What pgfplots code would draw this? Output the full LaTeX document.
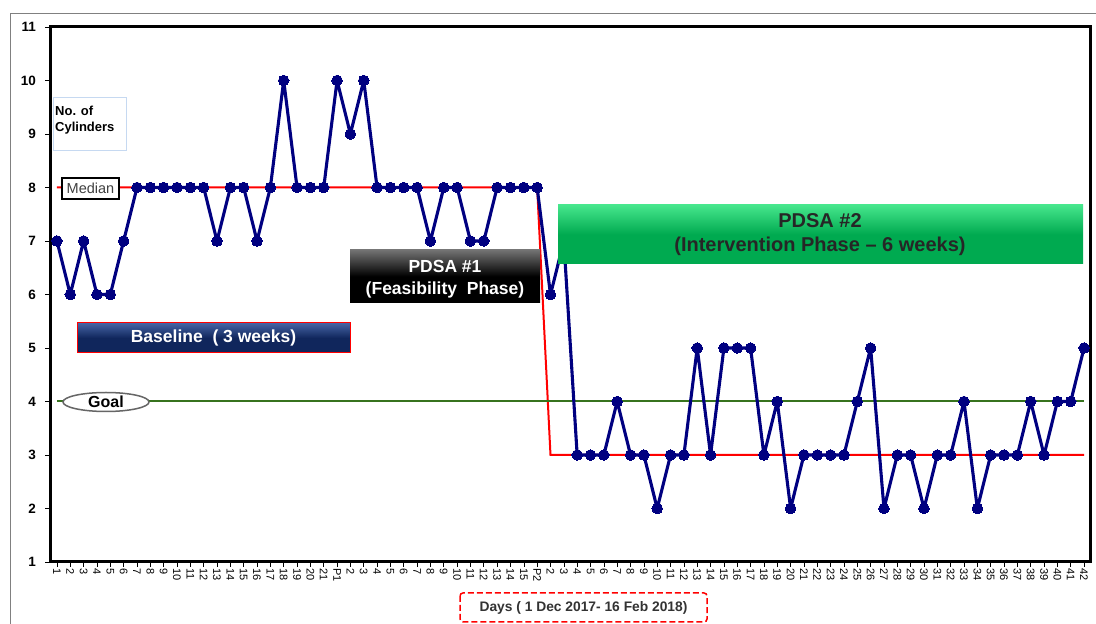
\documentclass[border=0pt]{standalone}
\usepackage{fontspec}
\setmainfont{Liberation Sans}
\usepackage{pgfplots}
\pgfplotsset{compat=1.18}
\definecolor{navyline}{RGB}{0,0,128}
\definecolor{goalgreen}{RGB}{55,115,30}
\definecolor{bltop}{RGB}{70,100,165}
\definecolor{blbot}{RGB}{16,38,92}
\definecolor{gntop}{RGB}{70,230,140}
\definecolor{gnbot}{RGB}{0,170,80}
\definecolor{cylbox}{RGB}{198,217,241}
\begin{document}
\begin{tikzpicture}[x=1pt,y=1pt]
\useasboundingbox (0,0) rectangle (1096,624);
\fill[white] (0,0) rectangle (1096,624);
\draw[gray, line width=1pt] (10,0) -- (10,610) -- (1096,610);
\begin{axis}[
  at={(50pt,62pt)}, anchor=south west,
  scale only axis, width=1040pt, height=535pt,
  xmin=-0.52, xmax=77.45, ymin=1, ymax=11,
  ytick={1,2,...,11},
  xtick={0,1,...,77},
  xtick pos=bottom, ytick pos=left,
  xticklabels={1,2,3,4,5,6,7,8,9,10,11,12,13,14,15,16,17,18,19,20,21,P1,2,3,4,5,6,7,8,9,10,11,12,13,14,15,P2,2,3,4,5,6,7,8,9,10,11,12,13,14,15,16,17,18,19,20,21,22,23,24,25,26,27,28,29,30,31,32,33,34,35,36,37,38,39,40,41,42},
  xticklabel style={rotate=-90, anchor=west, font=\fontsize{11}{11}\selectfont, inner sep=1pt, yshift=0pt},
  yticklabel style={font=\bfseries\fontsize{13.5}{13.5}\selectfont, inner xsep=2pt, xshift=-7pt},
  /pgf/number format/assume math mode=true,
  tick align=outside, major tick length=5pt,
  tick style={black, line width=0.6pt},
  axis line style={draw=none},
  clip=false,
]
\addplot[red, line width=2pt, mark=none] coordinates {(0,8) (36,8) (37,3) (77,3)};
\addplot[goalgreen, line width=2pt, mark=none] coordinates {(0,4) (77,4)};
\addplot[navyline, line width=3.1pt, line join=round, mark=*, mark size=5.3pt, mark options={fill=navyline, draw=navyline, line width=0pt}] table {
x y
0 7
1 6
2 7
3 6
4 6
5 7
6 8
7 8
8 8
9 8
10 8
11 8
12 7
13 8
14 8
15 7
16 8
17 10
18 8
19 8
20 8
21 10
22 9
23 10
24 8
25 8
26 8
27 8
28 7
29 8
30 8
31 7
32 7
33 8
34 8
35 8
36 8
37 6
38 7
39 3
40 3
41 3
42 4
43 3
44 3
45 2
46 3
47 3
48 5
49 3
50 5
51 5
52 5
53 3
54 4
55 2
56 3
57 3
58 3
59 3
60 4
61 5
62 2
63 3
64 3
65 2
66 3
67 3
68 4
69 2
70 3
71 3
72 3
73 4
74 3
75 4
76 4
77 5
};
\draw[black, line width=3pt] (rel axis cs:0,0) rectangle (rel axis cs:1,1);
\end{axis}
% No. of Cylinders
\draw[cylbox, line width=0.8pt] (53,527) rectangle (126,474);
\node[anchor=north west, align=left, inner sep=0pt, font=\bfseries\fontsize{13}{16}\selectfont] at (55,518) {No. of\\Cylinders};
% Median
\draw[black, fill=white, line width=1.5pt] (62,446) rectangle (119,425);
\node[font=\fontsize{14.5}{14.5}\selectfont, text=black!75] at (90.5,435.5) {Median};
% Goal
\draw[black!60, fill=white, line width=1.5pt] (106,222) ellipse [x radius=43, y radius=9.5];
\node[font=\bfseries\fontsize{16}{16}\selectfont] at (106,222) {Goal};
% Baseline
\shade[top color=bltop, bottom color=blbot, middle color=blbot] (77,301) rectangle (350,271);
\draw[red, line width=1pt] (77,301) rectangle (350,271);
\node[text=white, font=\bfseries\fontsize{17.5}{17.5}\selectfont] at (213.5,286) {Baseline\ \ ( 3 weeks)};
% PDSA 1
\shade[top color=black!55, bottom color=black, middle color=black] (350,374) rectangle (540,321);
\node[text=white, align=center, font=\bfseries\fontsize{17.5}{22}\selectfont] at (445,345) {PDSA \#1\\(Feasibility\ \ Phase)};
% PDSA 2
\shade[top color=gntop, bottom color=gnbot, middle color=gnbot] (558,419) rectangle (1083,360);
\node[text=black!85, align=center, font=\bfseries\fontsize{20}{24}\selectfont] at (820,389) {PDSA \#2\\(Intervention Phase -- 6 weeks)};
% Days
\draw[red, dashed, line width=1.5pt, rounded corners=3pt, dash pattern=on 6pt off 3pt] (460,31) rectangle (707,2);
\node[text=black!80, font=\bfseries\fontsize{13.8}{13.8}\selectfont] at (583.5,16.5) {Days ( 1 Dec 2017- 16 Feb 2018)};
\end{tikzpicture}
\end{document}
